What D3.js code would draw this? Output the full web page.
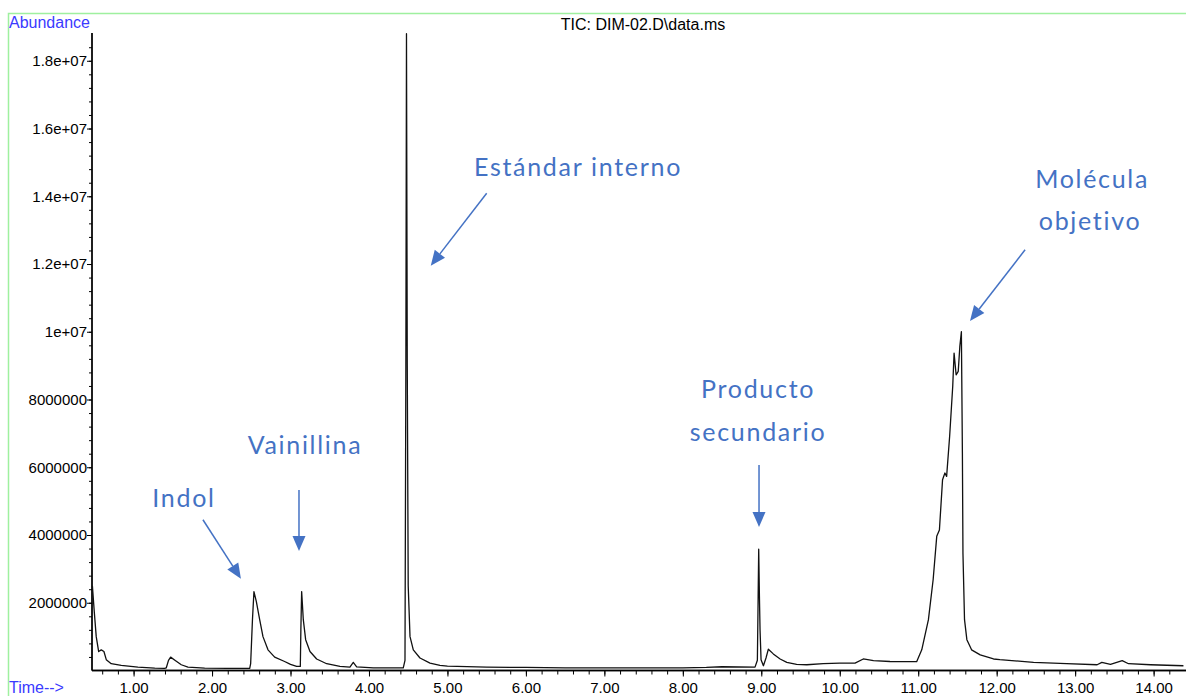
<!DOCTYPE html>
<html>
<head>
<meta charset='utf-8' />
<title>TIC chromatogram</title>
<style>
  body { margin: 0; background: #fff; }
  svg text { font-family: 'Liberation Sans', Arial, sans-serif; }
  .note { font-family: 'Lato', sans-serif; fill: #4472c4; font-size: 25px; letter-spacing: 1.7px; }
</style>
</head>
<body>
<div id="wrapper"></div>
<script src='https://d3js.org/d3.v7.min.js' charset='utf-8'></script>
<script>
  // retention time (min) and abundance
  const times = [
    0.475, 0.50, 0.524, 0.555, 0.588, 0.622, 0.652, 0.715, 0.843, 1.055,
    1.27, 1.396, 1.417, 1.445, 1.472, 1.531, 1.608, 1.693, 1.906, 2.20,
    2.48, 2.492, 2.515, 2.534, 2.564, 2.607, 2.649, 2.713, 2.798, 2.925,
    3.0, 3.078, 3.125, 3.132, 3.142, 3.163, 3.193, 3.248, 3.333, 3.461,
    3.63, 3.757, 3.80, 3.843, 4.055, 4.437, 4.459, 4.47, 4.478, 4.488,
    4.50, 4.523, 4.565, 4.65, 4.778, 4.905, 5.0, 5.5, 6.0, 6.5,
    7.0, 7.5, 8.0, 8.3, 8.5, 8.92, 8.95, 8.96, 8.967, 8.976,
    8.984, 8.997, 9.027, 9.06, 9.09, 9.153, 9.24, 9.325, 9.45, 9.58,
    9.79, 10.0, 10.195, 10.30, 10.43, 10.64, 10.98, 11.045, 11.13, 11.19,
    11.236, 11.27, 11.31, 11.34, 11.362, 11.40, 11.44, 11.457, 11.483, 11.51,
    11.53, 11.55, 11.563, 11.57, 11.59, 11.62, 11.68, 11.79, 11.96, 12.04,
    12.47, 12.89, 13.28, 13.34, 13.45, 13.60, 13.68, 13.96, 14.38
  ]
  const abundance = [
    2.5e6, 1.7e6, 1.0e6, 5.6e5, 6.1e5, 5.6e5, 3.2e5, 2.0e5, 1.5e5, 1.0e5,
    7e4, 6e4, 8e4, 3.0e5, 3.95e5, 2.95e5, 1.7e5, 1.0e5, 7e4, 6e4,
    6e4, 2.0e5, 1.5e6, 2.33e6, 2.04e6, 1.5e6, 1.0e6, 6.1e5, 3.95e5, 2.66e5,
    1.8e5, 1.2e5, 1.2e5, 1.2e6, 2.33e6, 1.5e6, 9.1e5, 5.6e5, 3.4e5, 2.0e5,
    1.2e5, 1.0e5, 2.4e5, 1.1e5, 8e4, 8e4, 3.0e5, 9.0e6, 1.88e7, 9.0e6,
    2.5e6, 1.0e6, 6.1e5, 3.7e5, 2.2e5, 1.5e5, 1.3e5, 1.0e5, 9e4, 8e4,
    8e4, 8e4, 8e4, 9e4, 1.1e5, 1.0e5, 3.0e5, 2.2e6, 3.58e6, 2.2e6,
    1.2e6, 3.2e5, 1.4e5, 3.7e5, 6.3e5, 4.9e5, 3.4e5, 2.4e5, 1.8e5, 1.7e5,
    2.0e5, 2.2e5, 2.2e5, 3.4e5, 2.9e5, 2.66e5, 2.6e5, 6.1e5, 1.5e6, 2.68e6,
    3.96e6, 4.15e6, 5.63e6, 5.83e6, 5.73e6, 6.9e6, 8.4e6, 9.37e6, 8.73e6, 8.83e6,
    9.56e6, 1.0e7, 6.4e6, 3.47e6, 1.5e6, 9.1e5, 6.1e5, 4.6e5, 3.4e5, 3.2e5,
    2.4e5, 2.0e5, 1.7e5, 2.4e5, 1.8e5, 2.9e5, 2.0e5, 1.7e5, 1.4e5
  ]

  const xTicks = [1, 2, 3, 4, 5, 6, 7, 8, 9, 10, 11, 12, 13, 14]
  const yTicks = [2e6, 4e6, 6e6, 8e6, 1e7, 1.2e7, 1.4e7, 1.6e7, 1.8e7]

  const title = 'TIC: DIM-02.D\\data.ms'
  const notes = ['Estándar interno', 'Molécula', 'objetivo', 'Producto', 'secundario', 'Vainillina', 'Indol']

  const width = 1186
  const height = 696
  const blue = '#4472c4'

  const svg = d3.select('#wrapper')
    .append('svg')
      .attr('width', width)
      .attr('height', height)

  const x = d3.scaleLinear()
    .domain([0.47, 14.40])
    .range([92, 1185])

  const y = d3.scaleLinear()
    .domain([0, 1.882e7])
    .range([670.5, 33])

  // green frame of the printout
  svg.append('path')
    .attr('d', 'M8.5,' + height + 'V13.5H' + width)
    .attr('fill', 'none')
    .attr('stroke', '#9ff09f')
    .attr('stroke-width', 1.5)

  // x axis: minor ticks every 0.2 min, labelled majors
  const xAxis = svg.append('g')
    .attr('transform', 'translate(0,' + y(0) + ')')
  xAxis.call(d3.axisBottom(x).tickValues(d3.range(0.6, 14.4, 0.2)).tickSize(4).tickFormat(''))
  xAxis.append('g')
    .call(d3.axisBottom(x).tickValues(xTicks).tickSize(6).tickFormat(d3.format('.2f')))
  xAxis.selectAll('.domain').attr('d', 'M92,0H1186')
  xAxis.selectAll('text')
    .attr('fill', '#000')
    .attr('font-size', 15)
    .attr('font-family', 'Liberation Sans')
    .attr('dy', '0.9em')

  // y axis
  const yAxis = svg.append('g')
    .attr('transform', 'translate(92,0)')
  yAxis.call(d3.axisLeft(y).tickValues(d3.range(4e5, 1.88e7, 4e5)).tickSize(3).tickFormat(''))
  yAxis.append('g')
    .call(d3.axisLeft(y).tickValues(yTicks).tickSize(5)
      .tickFormat(d => d >= 1e7 ? (d / 1e7) + 'e+07' : String(d)))
  yAxis.selectAll('.domain').attr('d', 'M0,33V' + y(0))
  yAxis.selectAll('text')
    .attr('fill', '#000')
    .attr('font-size', 15)
    .attr('font-family', 'Liberation Sans')
    .attr('x', -5)
  svg.selectAll('.tick line').attr('stroke', '#000')
  svg.selectAll('.domain').attr('stroke', '#000').attr('stroke-width', 1.3)

  svg.append('text')
    .attr('x', 9).attr('y', 28)
    .attr('fill', '#3a3aff').attr('font-size', 16)
    .text('Abundance')
  svg.append('text')
    .attr('x', 9).attr('y', 693)
    .attr('fill', '#3a3aff').attr('font-size', 16)
    .text('Time-->')
  svg.append('text')
    .attr('x', 643).attr('y', 30)
    .attr('text-anchor', 'middle')
    .attr('fill', '#000').attr('font-size', 16)
    .text(title)

  // chromatogram trace
  const line = d3.line()
    .x((d, i) => x(times[i]))
    .y(d => y(d))

  svg.append('path')
    .datum(abundance)
    .attr('fill', 'none')
    .attr('stroke', '#111')
    .attr('stroke-width', 1.3)
    .attr('stroke-linejoin', 'round')
    .attr('d', line)

  // annotations, placed in time / abundance units
  const labelPos = [
    [5.338, 1.46e7, 'start'], [13.216, 1.425e7, 'middle'], [13.19, 1.301e7, 'middle'],
    [8.959, 8.05e6, 'middle'], [8.959, 6.78e6, 'middle'], [3.184, 6.39e6, 'middle'], [1.643, 4.83e6, 'middle']
  ]
  svg.selectAll('text.note')
    .data(notes)
    .enter()
    .append('text')
      .attr('class', 'note')
      .attr('x', (d, i) => x(labelPos[i][0]))
      .attr('y', (d, i) => y(labelPos[i][1]))
      .attr('text-anchor', (d, i) => labelPos[i][2])
      .text(d => d)

  const arrows = [
    [[5.50, 1.409e7], [4.787, 1.195e7]],
    [[12.362, 1.242e7], [11.66, 1.032e7]],
    [[8.971, 6.07e6], [8.971, 4.24e6]],
    [[3.108, 5.33e6], [3.108, 3.53e6]],
    [[1.884, 4.45e6], [2.368, 2.71e6]]
  ]
  arrows.forEach(a => {
    const x0 = x(a[0][0]), y0 = y(a[0][1])
    const x1 = x(a[1][0]), y1 = y(a[1][1])
    const len = Math.hypot(x1 - x0, y1 - y0)
    const ux = (x1 - x0) / len, uy = (y1 - y0) / len
    const hl = 15, hw = 6.5
    const bx = x1 - ux * hl, by = y1 - uy * hl
    svg.append('line')
      .attr('x1', x0).attr('y1', y0)
      .attr('x2', bx).attr('y2', by)
      .attr('stroke', blue)
      .attr('stroke-width', 1.5)
    svg.append('path')
      .attr('d', 'M' + x1 + ',' + y1 +
        'L' + (bx - uy * hw) + ',' + (by + ux * hw) +
        'L' + (bx + uy * hw) + ',' + (by - ux * hw) + 'Z')
      .attr('fill', blue)
  })
</script>
</body>
</html>
